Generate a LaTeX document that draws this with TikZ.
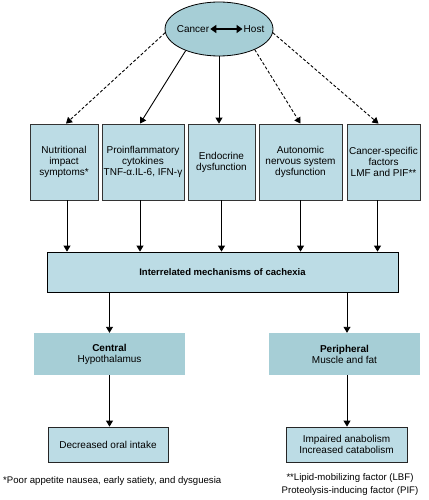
\documentclass[tikz,border=0pt]{standalone}
\usepackage{fontspec}
\setmainfont{Liberation Sans}
\usetikzlibrary{arrows.meta,shapes.geometric}
\definecolor{boxblue}{RGB}{188,220,229}
\definecolor{tealblue}{RGB}{166,206,214}
\begin{document}
\begin{tikzpicture}[x=1pt,y=-1pt,
  font=\fontsize{10}{11}\selectfont,
  tip/.style={-{Triangle[length=6pt,width=7pt]}},
  link/.style={tip,line width=0.9pt},
  dlink/.style={link,dash pattern=on 3pt off 2pt},
  causebox/.style={draw=black!80,fill=boxblue,line width=0.8pt,align=center,inner sep=0pt,minimum height=76pt},
  sitebox/.style={fill=tealblue,align=center,inner sep=0pt,minimum width=151pt,minimum height=42pt},
  outbox/.style={draw=black!85,fill=boxblue,line width=0.8pt,align=center,inner sep=0pt,minimum width=120pt,minimum height=35pt},
  note/.style={font=\fontsize{9.6}{13}\selectfont,inner sep=0pt}]
\useasboundingbox (0,0) rectangle (428,500);
\node[ellipse,draw,fill=tealblue,line width=0.8pt,minimum width=108pt,minimum height=54pt,inner sep=0pt] (ch) at (219,29) {};
\node[inner sep=1pt] (cancer) at (193,29) {Cancer};
\node[inner sep=1pt] (host) at (254,29) {Host};
\draw [{Triangle[length=6pt,width=8pt]}-{Triangle[length=6pt,width=8pt]},line width=1.6pt] (cancer) -- (host);
\node[causebox,minimum width=68pt] (nutr) at (64,162) {Nutritional\\impact\\symptoms*};
\node[causebox,minimum width=82pt] (cyto) at (143,162) {Proinflammatory\\cytokines\\TNF-α.IL-6, IFN-γ};
\node[causebox,minimum width=67pt] (endo) at (221.5,162) {Endocrine\\dysfunction};
\node[causebox,minimum width=83pt] (auto) at (300.5,162) {Autonomic\\nervous system\\dysfunction};
\node[causebox,minimum width=73pt] (spec) at (383.5,162) {Cancer-specific\\factors\\LMF and PIF**};
\node[draw=black,fill=boxblue,line width=0.8pt,inner sep=0pt,minimum width=351pt,minimum height=40pt,font=\fontsize{9.5}{11}\selectfont\bfseries] (mech) at (222.5,272) {Interrelated mechanisms of cachexia};
\node[sitebox] (central) at (109.5,354) {\textbf{Central}\\Hypothalamus};
\node[sitebox] (periph) at (344.5,354) {\textbf{Peripheral}\\Muscle and fat};
\node[outbox] (oral) at (108,444.5) {Decreased oral intake};
\node[outbox,minimum width=121pt] (catab) at (346.5,444.5) {Impaired anabolism\\Increased catabolism};
\node[note,anchor=west] (note1) at (3,481) {*Poor appetite nausea, early satiety, and dysguesia};
\node[note,align=center] (note2) at (350,484.5) {**Lipid-mobilizing factor (LBF)\\Proteolysis-inducing factor (PIF)};
% host to causes
\draw [dlink] (ch.184) -- ([xshift=2pt]nutr.north);
\draw [link] (ch.213) -- ([xshift=-3pt]cyto.north);
\draw [link] (ch.south) -- (ch.south |- endo.north);
\draw [dlink] (ch.330) -- (auto.north);
\draw [dlink] (ch.356) -- ([xshift=-5pt]spec.north);
% causes to mechanisms
\draw [link] ([xshift=3pt]nutr.south) -- ([xshift=3pt]nutr.south |- mech.north);
\draw [link] ([xshift=-3pt]cyto.south) -- ([xshift=-3pt]cyto.south |- mech.north);
\draw [link] (endo.south) -- (endo.south |- mech.north);
\draw [link] (auto.south) -- (auto.south |- mech.north);
\draw [link] ([xshift=-6pt]spec.south) -- ([xshift=-6pt]spec.south |- mech.north);
% mechanisms to sites
\draw [link] (central.north |- mech.south) -- (central.north);
\draw [link] ([xshift=2.5pt]periph.north |- mech.south) -- ([xshift=2.5pt]periph.north);
\draw [link] (central.south) -- (central.south |- oral.north);
\draw [link] ([xshift=2.5pt]periph.south) -- ([xshift=2.5pt]periph.south |- catab.north);
\end{tikzpicture}
\end{document}
